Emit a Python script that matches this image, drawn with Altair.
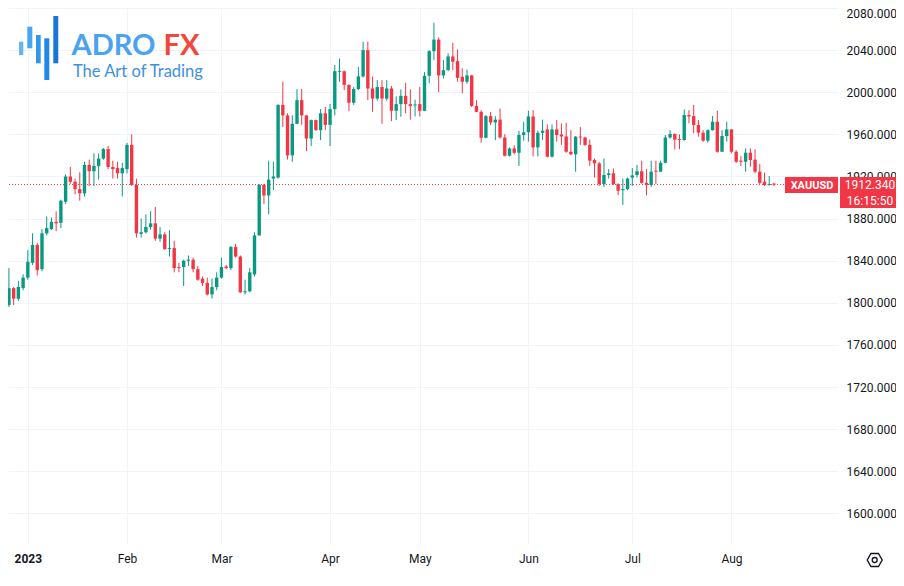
import altair as alt
import numpy as np
import pandas as pd

# ---------------- data (XAUUSD daily candles, bar index 0 = 3 Jan 2023) ----------------
bar_index = list(range(-5, 159))

opens = [
    1791, 1798, 1814, 1804, 1814,
    1824, 1838, 1855, 1832, 1866, 1870, 1877, 1876, 1896, 1920,
    1915, 1908, 1904, 1931, 1925, 1930, 1937, 1946, 1929, 1928,
    1923, 1927, 1950, 1912, 1865.5, 1867, 1872, 1875.5, 1861, 1865,
    1851, 1852, 1834, 1834, 1840, 1841, 1832, 1823, 1819, 1808,
    1815, 1824, 1834.5, 1833, 1853, 1844, 1810, 1811, 1827, 1864,
    1912, 1902, 1918, 1919, 1988, 1978, 1940, 1970, 1992.5, 1978,
    1956, 1973.5, 1964, 1980, 1969, 1984, 2019.4, 2020, 2007, 1990,
    2003, 2015, 2040, 2003.6, 1994, 2005, 1994, 2003.6, 1982.4, 1988.7,
    1996.6, 1988.7, 1987.5, 1988.7, 1982.4, 2015.6, 2039, 2050, 2016, 2021,
    2034, 2029.5, 2014.7, 2010, 2016, 1987, 1981.4, 1956.8, 1977.3, 1971.3,
    1974, 1957, 1939.7, 1946.6, 1942.5, 1959.3, 1962, 1977, 1947.6, 1961.5,
    1964.7, 1938.8, 1964.7, 1960, 1958, 1943.5, 1941, 1957.8, 1957, 1950,
    1935.6, 1932.5, 1912.8, 1921.4, 1923, 1912.8, 1907, 1908, 1919, 1921.4,
    1925, 1914, 1912, 1925.5, 1924.6, 1933, 1957, 1960.3, 1955, 1954.6,
    1978.4, 1977.4, 1968.9, 1961.6, 1954, 1964, 1972, 1943.5, 1958.4, 1964.7,
    1943.5, 1935, 1934, 1942.6, 1936, 1924.6, 1915, 1911.9, 1912.8,
]

highs = [
    1800, 1833, 1815, 1821, 1827,
    1850, 1866, 1857, 1870, 1882, 1881, 1887, 1898, 1922, 1929,
    1918, 1924, 1934, 1936, 1942, 1942, 1947, 1949, 1935, 1934,
    1933, 1952, 1960, 1918, 1880, 1884, 1887, 1891, 1872, 1867,
    1869, 1859, 1838, 1841, 1845, 1843, 1835, 1825, 1824, 1823,
    1829, 1843, 1836, 1854, 1856, 1845, 1822, 1833, 1867, 1913,
    1913, 1935, 1934, 1988.5, 2010, 1980, 1978, 2003, 2003, 1978.5,
    1974, 1974, 1984, 1986, 1989, 2026, 2032, 2020.5, 2007.5, 2005,
    2024, 2048, 2048, 2015, 2011.5, 2011.5, 2011.5, 2006, 1996, 2002.7,
    2009, 2002.7, 1993, 2005, 2019, 2040, 2066, 2052, 2030.5, 2037,
    2047, 2040.6, 2022.7, 2021.5, 2016.5, 1992.5, 1983, 1978.3, 1981.4, 1977.3,
    1984.6, 1960.2, 1947.6, 1949.8, 1963.4, 1972, 1982.5, 1983, 1963.5, 1974,
    1969.5, 1969.5, 1973.6, 1970.4, 1971, 1964, 1958.4, 1967, 1957.8, 1955,
    1937, 1933.7, 1937, 1927, 1927.7, 1913.5, 1918, 1919, 1928, 1931,
    1935, 1927, 1935, 1935, 1935, 1959.4, 1964, 1961, 1960, 1983.7,
    1983, 1987.9, 1973.6, 1964, 1964.7, 1977.4, 1982.5, 1964, 1972, 1965,
    1945, 1939.4, 1946.7, 1946.7, 1945.8, 1931.8, 1923.6, 1920.4, 1914,
]

lows = [
    1789, 1796, 1798, 1802, 1812,
    1822, 1836, 1826, 1830, 1864, 1869, 1868, 1871, 1894, 1913,
    1903, 1897, 1901, 1911, 1911, 1917, 1936, 1927, 1918, 1918,
    1901, 1923, 1911, 1862, 1862, 1866, 1869.5, 1859, 1858, 1850.5,
    1844, 1829, 1829, 1816, 1835, 1829, 1821, 1816, 1807, 1804,
    1812, 1823, 1832, 1831, 1843, 1809.5, 1808, 1810, 1825, 1864,
    1894, 1884, 1907, 1918, 1967, 1936, 1934, 1970, 1969, 1944,
    1949, 1963.4, 1954.5, 1964, 1949, 1978, 2010, 2002, 1982, 1988,
    2002, 2014, 1992.5, 1981.5, 1992, 1970, 1992, 1972.6, 1973.5, 1976.7,
    1980, 1974, 1977, 1977, 1982, 2008.4, 2030.5, 2000, 2013, 2020,
    2021, 2010, 1999, 2008, 1986, 1981, 1952, 1956.2, 1968.8, 1954.5,
    1956, 1939, 1939, 1941, 1930, 1954, 1953, 1939, 1939, 1954.6,
    1938, 1938, 1953, 1950, 1942.5, 1940.4, 1924.6, 1950, 1949, 1930,
    1919, 1911, 1910, 1918, 1912, 1902.4, 1893, 1907, 1911, 1919,
    1913, 1902, 1910, 1912.8, 1924.6, 1932.5, 1956, 1945.8, 1946, 1954,
    1970.4, 1961, 1957.8, 1953, 1952, 1963.5, 1942.6, 1943.5, 1953, 1942,
    1933, 1930, 1924.6, 1929.3, 1923, 1912.8, 1911, 1911.3, 1911,
]

closes = [
    1798, 1814, 1804, 1815, 1824,
    1839, 1855, 1831, 1866, 1871, 1877, 1875.5, 1897, 1920, 1915,
    1908, 1904, 1931, 1925, 1930, 1937, 1946, 1929, 1927, 1923,
    1928, 1950, 1912, 1866, 1867, 1872, 1875.5, 1861, 1865, 1851,
    1852, 1833, 1833, 1840, 1841, 1832, 1822, 1819, 1808, 1815,
    1824, 1834, 1833, 1853, 1844, 1810, 1811, 1829, 1864, 1912,
    1902, 1917, 1920, 1988, 1978, 1940, 1970, 1992.5, 1978, 1956,
    1973.5, 1964, 1980, 1969, 1984, 2020, 2020, 2007, 1990, 2003,
    2015, 2040, 2003.6, 1994, 2005, 1994, 2003.6, 1982.4, 1988.7, 1996.6,
    1988.7, 1987, 1988, 1982.4, 2015.6, 2039, 2050, 2016, 2021, 2034,
    2029, 2013.7, 2010, 2016, 1987, 1981.4, 1956.8, 1977.3, 1971.3, 1974,
    1957, 1939.7, 1946.6, 1942.5, 1959.3, 1962, 1977, 1947.6, 1961.5, 1963.5,
    1938.8, 1964.7, 1959.4, 1958, 1943.5, 1941, 1957.8, 1957, 1950, 1935,
    1932.5, 1912.8, 1921.4, 1923, 1912.8, 1906.5, 1908, 1918, 1921, 1925,
    1914, 1912, 1924.6, 1924.6, 1933, 1957, 1960.3, 1955, 1954.6, 1978.4,
    1977, 1968.9, 1961.6, 1954, 1964, 1972, 1943.5, 1958.4, 1964.7, 1943.5,
    1934, 1934, 1942.6, 1935.6, 1924.6, 1914, 1911.9, 1912.8, 1912.34,
]

month_labels = ["2023", "Feb", "Mar", "Apr", "May", "Jun", "Jul", "Aug"]
month_index = [0, 21, 41, 64, 83, 106, 128, 149]
price_ticks = list(range(1600, 2081, 40))

symbol = "XAUUSD"
last_price = 1912.34
countdown = "16:15:50"

# ---------------- styling ----------------
GREEN = "#089981"
RED = "#f23645"
GRID = "#f0f3fa"
TXT = "#131722"
FONT = "Roboto"

df = pd.DataFrame({"i": bar_index, "open": opens, "high": highs, "low": lows, "close": closes})
df["dir"] = np.where(df["close"] >= df["open"], "up", "down")
df["b0"] = df[["open", "close"]].min(axis=1)
df["b1"] = np.maximum(df[["open", "close"]].max(axis=1), df["b0"] + 0.9)

x_scale = alt.Scale(domain=[-3.138, 170.502], nice=False, zero=False)
y_scale = alt.Scale(domain=[1571.0, 2080.0], nice=False, zero=False)

label_expr = "[" + ",".join("'%s'" % m for m in month_labels) + "][indexof([" + \
    ",".join(str(v) for v in month_index) + "], datum.value)]"

x_axis = alt.Axis(values=month_index, labelExpr=label_expr, title=None, grid=True,
                  gridColor=GRID, gridWidth=1, ticks=False, tickSize=0, domain=False,
                  labelPadding=9, labelFont=FONT, labelFontSize=12, labelColor=TXT,
                  labelFontWeight={"condition": {"test": "datum.value == 0", "value": "bold"},
                                   "value": "normal"},
                  labelFlush=False, labelOverlap=False, zindex=0)
y_axis = alt.Axis(orient="right", values=price_ticks, format=".3f", title=None, grid=True,
                  gridColor=GRID, gridWidth=1, ticks=False, tickSize=0, domain=False,
                  labelPadding=8, labelFont=FONT, labelFontSize=12, labelColor=TXT,
                  labelFlush=True, labelOverlap=False, zindex=0)

color = alt.Color("dir:N", scale=alt.Scale(domain=["up", "down"], range=[GREEN, RED]), legend=None)

base = alt.Chart(df)
wicks = base.mark_rule(strokeWidth=1, clip=True).encode(
    x=alt.X("i:Q", scale=x_scale, axis=x_axis),
    y=alt.Y("low:Q", scale=y_scale, axis=y_axis),
    y2="high:Q",
    color=color,
)
bodies = base.mark_bar(size=3.4, clip=True).encode(
    x=alt.X("i:Q", scale=x_scale, axis=x_axis),
    y=alt.Y("b0:Q", scale=y_scale, axis=y_axis),
    y2="b1:Q",
    color=color,
)

ann = pd.DataFrame({"p": [last_price], "sym": [symbol],
                    "lbl": ["%.3f" % last_price], "cd": [countdown]})
a = alt.Chart(ann)
py = alt.Y("p:Q", scale=y_scale, axis=y_axis)

price_line = a.mark_rule(color=RED, strokeDash=[1, 2], strokeWidth=1).encode(y=py)
sym_box = a.mark_rect(color=RED, yOffset=-7.5, y2Offset=8.5).encode(
    x=alt.value(777), x2=alt.value(830), y=py, y2="p:Q")
price_box = a.mark_rect(color=RED, yOffset=-7.5, y2Offset=23.5).encode(
    x=alt.value(832), x2=alt.value(888), y=py, y2="p:Q")
sym_text = a.mark_text(font=FONT, fontSize=11, fontWeight="bold", color="white",
                       align="center", baseline="middle", dy=1).encode(
    x=alt.value(804), y=py, text="sym:N")
price_text = a.mark_text(font=FONT, fontSize=12, color="white",
                         align="center", baseline="middle", dy=0.5).encode(
    x=alt.value(862), y=py, text="lbl:N")
cd_text = a.mark_text(font=FONT, fontSize=12, color="white",
                      align="center", baseline="middle", dy=16).encode(
    x=alt.value(862), y=py, text="cd:N")

# ---------------- logo (decoration) ----------------
one = alt.Chart(pd.DataFrame({"k": [0]}))
logo_bars = [
    (11, 15.3, 33.7, 47, "#62b5f6"),
    (19.3, 24.3, 18.7, 40.3, "#45a6f3"),
    (28, 32.7, 27, 55.3, "#3096ee"),
    (36.3, 41.3, 30.3, 72, "#2387e4"),
    (45.3, 50.3, 8, 55.3, "#1a76d6"),
]
logo_layers = []
for x1, x2, y1, y2, c in logo_bars:
    logo_layers.append(one.mark_rect(color=c).encode(
        x=alt.value(x1), x2=alt.value(x2), y=alt.value(y1), y2=alt.value(y2)))
logo_layers.append(one.mark_text(text="ADRO", font="Lato", fontSize=29, fontWeight="bold",
                                 color="#4aa3f2", align="left", baseline="alphabetic").encode(
    x=alt.value(63.5), y=alt.value(47)))
logo_layers.append(one.mark_text(text="FX", font="Lato", fontSize=29, fontWeight="bold",
                                 color="#f2473a", align="left", baseline="alphabetic").encode(
    x=alt.value(155.5), y=alt.value(47)))
logo_layers.append(one.mark_text(text="The Art of Trading", font="Lato", fontSize=16.5,
                                 color="#3d8fe0", align="left", baseline="alphabetic").encode(
    x=alt.value(65), y=alt.value(69)))

hex_path = "M-1,0L-0.5,-0.866L0.5,-0.866L1,0L0.5,0.866L-0.5,0.866Z"
gear1 = one.mark_point(shape=hex_path, size=225, filled=False, color=TXT, strokeWidth=1.4,
                       opacity=1).encode(x=alt.value(866.7), y=alt.value(552))
gear2 = one.mark_point(shape="circle", size=24, filled=False, color=TXT, strokeWidth=1.4,
                       opacity=1).encode(x=alt.value(866.7), y=alt.value(552))

chart = alt.layer(
    wicks, bodies, price_line, sym_box, price_box, sym_text, price_text, cd_text,
    *logo_layers, gear1, gear2,
).properties(
    width=830, height=536,
    autosize=alt.AutoSizeParams(type="none"),
    padding={"left": 0, "top": 0, "right": 58, "bottom": 26},
    background="white",
).configure_view(stroke=None)

chart.save("out.html", embed_options={"renderer": "svg", "actions": False})
